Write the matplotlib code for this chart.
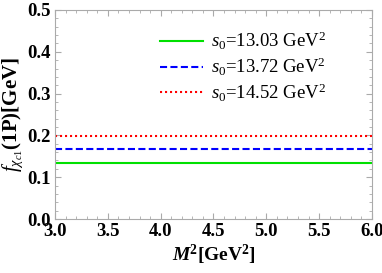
import matplotlib
matplotlib.use("Agg")
import matplotlib.pyplot as plt
import numpy as np
from matplotlib.ticker import MultipleLocator, FormatStrFormatter

plt.rcParams['font.family'] = ['Liberation Serif', 'DejaVu Serif']
plt.rcParams['mathtext.fontset'] = 'custom'
plt.rcParams['mathtext.rm'] = 'Liberation Serif'
plt.rcParams['mathtext.it'] = 'Liberation Serif:italic'
plt.rcParams['mathtext.bf'] = 'Liberation Serif:bold'
plt.rcParams['mathtext.bfit'] = 'Liberation Serif:bold:italic'

M2 = [3.0, 6.0]
s0_labels = [r'$s_0$=13.03 GeV$^2$', r'$s_0$=13.72 GeV$^2$', r'$s_0$=14.52 GeV$^2$']
f_values = [0.134, 0.1675, 0.199]
colors = ['#00e000', '#0000ff', '#ff0000']
styles = ['-', (0, (3.4, 1.6)), (0, (1.0, 1.4))]

fig = plt.figure(figsize=(3.82, 2.73), dpi=100)
ax = fig.add_axes([55/382, 1-219/273, (372-55)/382, (219-10)/273])

for lab, v, c, ls in zip(s0_labels, f_values, colors, styles):
    ax.plot(M2, [v, v], color=c, ls=ls, lw=1.5, label=lab)

ax.set_xlim(3.0, 6.0)
ax.set_ylim(0.0, 0.5)
ax.xaxis.set_major_locator(MultipleLocator(0.5))
ax.xaxis.set_minor_locator(MultipleLocator(0.1))
ax.yaxis.set_major_locator(MultipleLocator(0.1))
ax.yaxis.set_minor_locator(MultipleLocator(0.02))
ax.tick_params(which='both', direction='in', top=True, right=True, color='#aaaaaa')
ax.tick_params(which='major', length=4, width=0.8, labelsize=13.5, pad=3)
ax.tick_params(which='minor', length=2, width=0.6)
for sp in ax.spines.values():
    sp.set_color('#aaaaaa')
    sp.set_linewidth(0.8)
ax.xaxis.set_major_formatter(FormatStrFormatter('%.1f'))
ax.yaxis.set_major_formatter(FormatStrFormatter('%.1f'))
for t in ax.get_xticklabels() + ax.get_yticklabels():
    t.set_fontweight('bold')

ax.set_xlabel(r'$\mathbfit{M}^{\mathbf{2}}$[GeV$^{\mathbf{2}}$]', fontsize=14, fontweight='bold', labelpad=2)
ax.set_ylabel(r'$f_{\chi_{c1}}$(1P)[GeV]', fontsize=15, fontweight='bold', labelpad=2)

leg = ax.legend(loc='upper left', bbox_to_anchor=(0.331, 0.905), frameon=False,
                fontsize=13.5, handlelength=2.3, labelspacing=0.2, handletextpad=0.4,
                borderpad=0, borderaxespad=0)

fig.savefig('out.png', dpi=100)
